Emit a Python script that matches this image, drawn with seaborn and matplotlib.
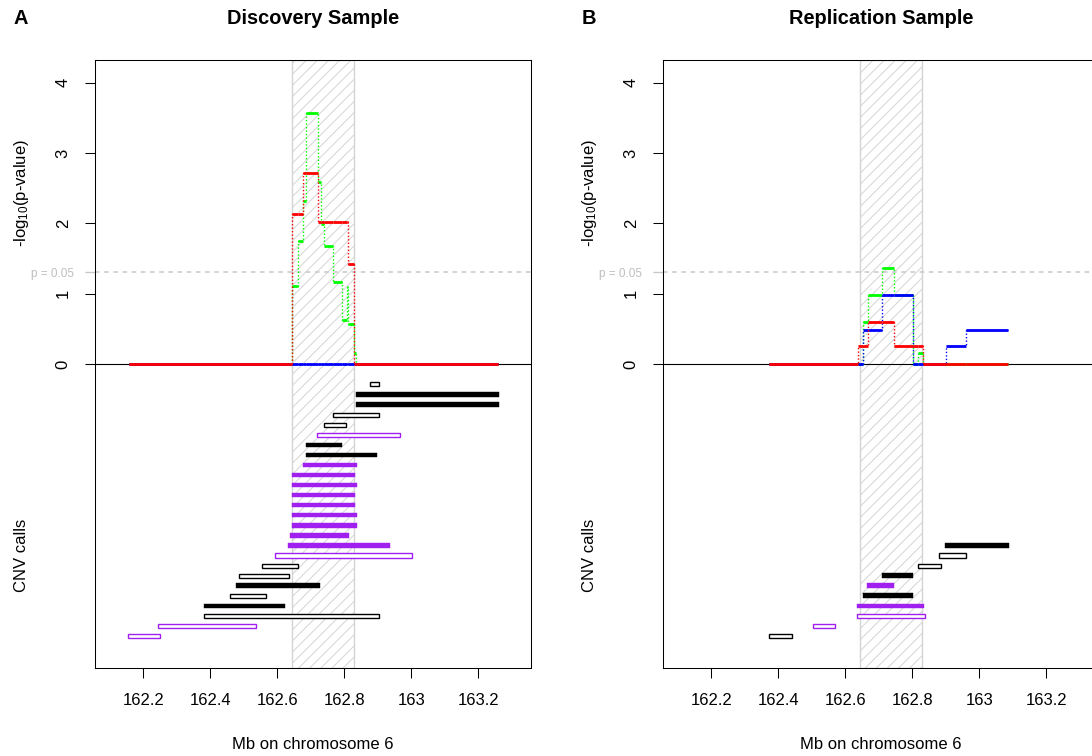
import numpy as np
import pandas as pd
import matplotlib
matplotlib.use("Agg")
import matplotlib.pyplot as plt
import seaborn as sns

# ---------------------------------------------------------------- data
XTICKS = [162.2, 162.4, 162.6, 162.8, 163.0, 163.2]
XTICK_LABELS = ["162.2", "162.4", "162.6", "162.8", "163", "163.2"]
YTICKS = [0, 1, 2, 3, 4]
P_CUTOFF = 0.05
REGION = (162.645, 162.830)          # highlighted interval (Mb)

# Discovery sample: -log10(p) per interval between consecutive edges
DISC_EDGES = [162.157, 162.645, 162.661, 162.678, 162.686, 162.720, 162.729,
              162.740, 162.767, 162.792, 162.807, 162.812, 162.830, 162.836,
              163.260]
DISC_RED = [0, 2.13, 2.13, 2.72, 2.72, 2.02, 2.02, 2.02, 2.02, 2.02, 2.02,
            1.42, 0, 0]
DISC_GREEN = [0, 1.11, 1.75, 2.32, 3.56, 2.59, 1.99, 1.67, 1.16, 0.63, 1.10,
              0.57, 0.15, 0]
DISC_BLUE = [0, 0, 0, 0, 0, 0, 0, 0, 0, 0, 0, 0, 0, 0]

# Discovery sample CNV calls, listed top to bottom
DISC_START = [162.878, 162.835, 162.835, 162.767, 162.740, 162.719, 162.687,
              162.687, 162.677, 162.645, 162.645, 162.645, 162.645, 162.645,
              162.645, 162.639, 162.631, 162.594, 162.555, 162.487, 162.478,
              162.460, 162.380, 162.380, 162.245, 162.155]
DISC_END = [162.904, 163.261, 163.261, 162.904, 162.806, 162.965, 162.792,
            162.898, 162.837, 162.832, 162.837, 162.832, 162.832, 162.837,
            162.837, 162.813, 162.937, 163.003, 162.661, 162.635, 162.727,
            162.567, 162.624, 162.904, 162.537, 162.251]
DISC_TYPE = ["black", "black", "black", "black", "black", "purple", "black",
             "black", "purple", "purple", "purple", "purple", "purple",
             "purple", "purple", "purple", "purple", "purple", "black",
             "black", "black", "black", "black", "black", "purple", "purple"]
DISC_FILLED = [False, True, True, False, False, False, True, True, True, True,
               True, True, True, True, True, True, True, False, False, False,
               True, False, True, False, False, False]

# Replication sample
REP_EDGES = [162.372, 162.637, 162.652, 162.667, 162.711, 162.745, 162.801,
             162.816, 162.833, 162.900, 162.959, 163.086]
REP_RED = [0, 0.26, 0.26, 0.60, 0.60, 0.26, 0.26, 0.26, 0, 0, 0]
REP_GREEN = [0, 0, 0.60, 0.98, 1.37, 0.98, 0, 0.16, 0, 0, 0]
REP_BLUE = [0, 0, 0.48, 0.48, 0.98, 0.98, 0, 0, 0, 0.26, 0.48]

REP_START = [162.899, 162.881, 162.818, 162.710, 162.666, 162.653, 162.636,
             162.636, 162.504, 162.371]
REP_END = [163.087, 162.961, 162.887, 162.802, 162.746, 162.802, 162.835,
           162.837, 162.568, 162.442]
REP_TYPE = ["black", "black", "black", "black", "purple", "black", "purple",
            "purple", "purple", "black"]
REP_FILLED = [True, False, False, True, True, True, True, False, False, False]

# ---------------------------------------------------------------- style
sns.set_theme(style="ticks", rc={
    "axes.edgecolor": "black", "axes.linewidth": 0.75,
    "xtick.color": "black", "ytick.color": "black",
    "text.color": "black", "axes.labelcolor": "black",
    "hatch.color": "#d9d9d9", "hatch.linewidth": 0.7,
    "mathtext.fontset": "custom", "mathtext.rm": "Liberation Sans",
    "mathtext.default": "regular",
})
plt.rcParams["font.family"] = ["Liberation Sans", "DejaVu Sans"]

TYPE_COLOURS = {"black": "#000000", "purple": "#A020F0"}
LINE_COLOURS = [("green", "#00FF00"), ("blue", "#0000FF"), ("red", "#FF0000")]
P_GREY = "#BEBEBE"
XLIM = (162.057, 163.357)
YLIM = (-4.32, 4.32)
ROW_STEP = 0.143
BOTTOM_ROW = -3.865
BAR_H = 0.064


def draw_panel(ax, edges, series, starts, ends, kinds, filled):
    ax.set_xlim(*XLIM)
    ax.set_ylim(*YLIM)

    ax.axvspan(*REGION, facecolor="white", edgecolor="#d4d4d4", hatch="///",
               lw=1.0, zorder=0.5)
    p_line = -np.log10(P_CUTOFF)
    ax.axhline(p_line, color="#c8c8c8", ls=(0, (3, 3)), lw=1.1, zorder=1)
    ax.axhline(0, color="black", lw=0.8, zorder=1.1)

    for z, (name, colour) in enumerate(LINE_COLOURS):
        vals = series[name]
        df = pd.DataFrame({"pos": edges, "val": list(vals) + [vals[-1]]})
        sns.lineplot(data=df, x="pos", y="val", drawstyle="steps-post",
                     color=colour, lw=1.0, linestyle=(0, (1, 1.5)),
                     estimator=None, sort=False, ax=ax, zorder=2 + z)
        ax.hlines(vals, edges[:-1], edges[1:], colors=colour, lw=2.0,
                  zorder=2.5 + z)

    n = len(starts)
    rows = BOTTOM_ROW + ROW_STEP * np.arange(n)[::-1]
    for y, s, e, k, f in zip(rows, starts, ends, kinds, filled):
        c = TYPE_COLOURS[k]
        if f:
            ax.barh(y, e - s, left=s, height=BAR_H, color=c, edgecolor=c,
                    lw=0.3, zorder=3)
        else:
            ax.barh(y, e - s, left=s, height=BAR_H * 0.9, facecolor="white",
                    edgecolor=c, lw=1.0, zorder=3)

    ax.set_xticks(XTICKS, labels=XTICK_LABELS)
    ax.set_yticks(YTICKS, labels=[str(t) for t in YTICKS])
    ax.set_yticks([p_line], labels=["p = 0.05"], minor=True)
    ax.tick_params(axis="both", which="major", direction="out", length=7.2,
                   width=0.75, labelsize=12, pad=10.5)
    ax.tick_params(axis="y", which="major", labelrotation=90)
    for lab in ax.get_yticklabels():
        lab.set_va("center")
    ax.tick_params(axis="y", which="minor", direction="out", length=7.2,
                   width=1.0, color="#c8c8c8", labelcolor=P_GREY,
                   labelsize=8.5, pad=8, labelrotation=0)
    ax.tick_params(axis="x", which="minor", bottom=False)

    ax.set_ylabel("")
    ax.set_xlabel("Mb on chromosome 6", fontsize=12, labelpad=21)
    ax.annotate(r"-log$_{10}$(p-value)", xy=(0, 2.43),
                xycoords=("axes fraction", "data"), xytext=(-53, 0),
                textcoords="offset points", rotation=90, ha="center",
                va="center", fontsize=12)
    ax.annotate("CNV calls", xy=(0, -2.72),
                xycoords=("axes fraction", "data"), xytext=(-53, 0),
                textcoords="offset points", rotation=90, ha="center",
                va="center", fontsize=12)


W, H = 1092, 756
fig = plt.figure(figsize=(W / 100, H / 100), dpi=100)
ax_w = 435.7 / W
ax_b = (H - 668) / H
ax_h = 608 / H
axA = fig.add_axes([95.3 / W, ax_b, ax_w, ax_h])
axB = fig.add_axes([663.3 / W, ax_b, ax_w, ax_h])

draw_panel(axA, DISC_EDGES,
           {"red": DISC_RED, "green": DISC_GREEN, "blue": DISC_BLUE},
           DISC_START, DISC_END, DISC_TYPE, DISC_FILLED)
draw_panel(axB, REP_EDGES,
           {"red": REP_RED, "green": REP_GREEN, "blue": REP_BLUE},
           REP_START, REP_END, REP_TYPE, REP_FILLED)

for ax, letter, title in ((axA, "A", "Discovery Sample"),
                          (axB, "B", "Replication Sample")):
    x0 = ax.get_position().x0
    xc = x0 + ax.get_position().width / 2
    fig.text(xc, 1 - 18 / H, title, ha="center", va="center",
             fontsize=14.4, fontweight="bold")
    fig.text(x0 - 82 / W, 1 - 18 / H, letter, ha="left", va="center",
             fontsize=14.4, fontweight="bold")

fig.savefig("out.png", dpi=100)
